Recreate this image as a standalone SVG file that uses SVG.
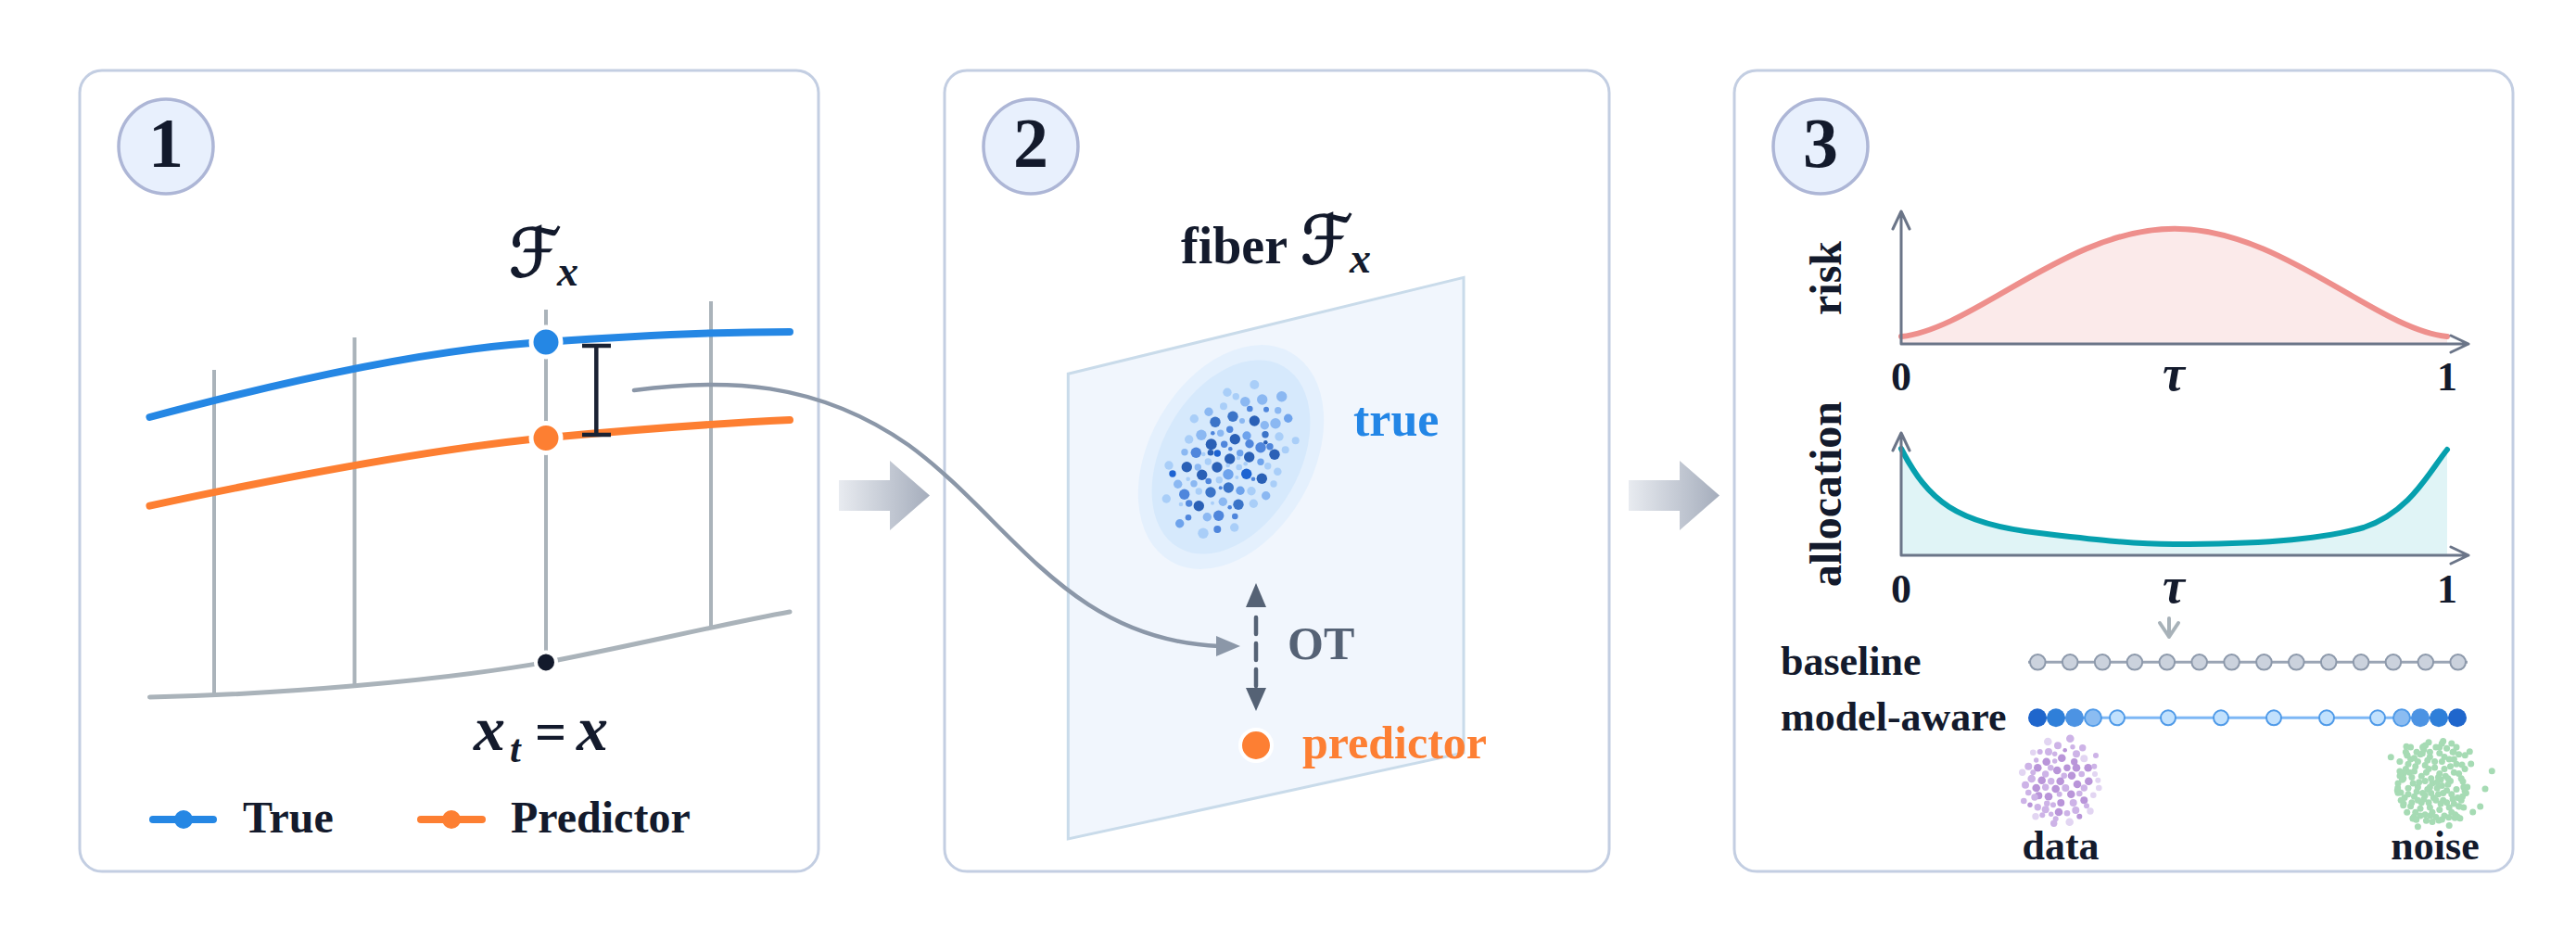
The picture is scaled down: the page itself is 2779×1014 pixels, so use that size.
<svg xmlns="http://www.w3.org/2000/svg" width="2779" height="1014" viewBox="0 0 2779 1014">
<defs>
<style>
.panel{fill:#ffffff;stroke:#c3cee2;stroke-width:3}
.badge{fill:#e8f0fd;stroke:#adb6d6;stroke-width:3.5}
.t{font-family:"Liberation Serif","Times New Roman","DejaVu Serif",serif;font-weight:bold;fill:#131a2c}
.num{font-size:76px;text-anchor:middle}
.m{font-family:"Liberation Serif","Times New Roman",serif;font-weight:bold;font-style:italic;fill:#131a2c}
.scr{font-family:"DejaVu Serif","DejaVu Sans",serif;font-style:italic;fill:#131a2c;stroke:#131a2c;stroke-width:1.6}
.vl{stroke:#aab3ba;stroke-width:4;fill:none}
.axis{stroke:#6b7588;stroke-width:3;fill:none;stroke-linecap:round;stroke-linejoin:round}
.b1{fill:#a9cef8}.b2{fill:#8bb8f2}.b3{fill:#6ea3ec}.b4{fill:#4f86dc}.b5{fill:#3b74c8}.b6{fill:#2a60b6}.b7{fill:#1d63d2}
.p1{fill:#b995d9}.p2{fill:#cdb3e7}.p3{fill:#e2d5f2}
.g circle{fill:#a6dbb4}
.bd{fill:#cbd2dd;stroke:#8d99ab;stroke-width:2}
.md{stroke:#4f9ae8;stroke-width:2}
</style>
<linearGradient id="ga" x1="0" y1="0" x2="1" y2="0">
<stop offset="0" stop-color="#e8ebf0"/>
<stop offset="1" stop-color="#a5adbc"/>
</linearGradient>
</defs>
<rect width="2779" height="1014" fill="#ffffff"/>

<g id="panel1">
<rect class="panel" x="86" y="76" width="797" height="864" rx="24"/>
<circle class="badge" cx="179" cy="158" r="51"/>
<text class="t num" x="179" y="180">1</text>
<text class="scr" x="549" y="298" font-size="72">ℱ</text>
<text class="m" x="601" y="308" font-size="46">x</text>
<path class="vl" d="M231,399 L231,748 M382.5,364 L382.5,739 M589,334 L589,714 M767,325 L767,677"/>
<path d="M161.5,752 C300,749 470,735 589,714.4 C680,697 780,673 852,660" fill="none" stroke="#aab3ba" stroke-width="5" stroke-linecap="round"/>
<path d="M161.5,450 C330,405 480,375 589,369 C700,361 780,358 852,358" fill="none" stroke="#2587e4" stroke-width="8" stroke-linecap="round"/>
<path d="M161.5,545.6 C300,516 470,484 589,472.2 C700,462 790,456 852,453" fill="none" stroke="#fd7f32" stroke-width="8" stroke-linecap="round"/>
<circle cx="589" cy="369" r="16" fill="#2587e4" stroke="#ffffff" stroke-width="5"/>
<circle cx="589" cy="472.5" r="16" fill="#fd7f32" stroke="#ffffff" stroke-width="5"/>
<circle cx="589" cy="714.4" r="11" fill="#131a2c" stroke="#ffffff" stroke-width="4"/>
<path d="M643.3,373 L643.3,469 M628,373 L659,373 M628,469 L659,469" stroke="#1a2233" stroke-width="4.5" fill="none"/>
<text class="m" x="511" y="809" font-size="68">x</text>
<text class="m" x="550" y="822" font-size="42">t</text>
<text class="t" x="577" y="809" font-size="60" font-weight="normal">=</text>
<text class="m" x="622" y="809" font-size="68">x</text>
<line x1="165" y1="884" x2="230" y2="884" stroke="#2587e4" stroke-width="8" stroke-linecap="round"/>
<circle cx="198" cy="884" r="10" fill="#2587e4"/>
<text class="t" x="262" y="898" font-size="48">True</text>
<line x1="454" y1="884" x2="520" y2="884" stroke="#fd7f32" stroke-width="8" stroke-linecap="round"/>
<circle cx="487" cy="884" r="10" fill="#fd7f32"/>
<text class="t" x="551" y="898" font-size="48">Predictor</text>
</g>

<g id="panel2">
<rect class="panel" x="1019" y="76" width="717" height="864" rx="24"/>
<circle class="badge" cx="1112" cy="158" r="51"/>
<text class="t num" x="1112" y="180">2</text>
<text class="t" x="1274" y="284" font-size="56">fiber</text>
<text class="scr" x="1403" y="284" font-size="72">ℱ</text>
<text class="m" x="1456" y="294" font-size="46">x</text>
<polygon points="1152.3,403.3 1579,299.3 1579,812 1152.3,905" fill="#f1f6fd" stroke="#c9dbea" stroke-width="3"/>
<g transform="translate(1328,493) rotate(-60)">
<ellipse rx="130" ry="88" fill="#e4f0fd"/>
<ellipse rx="113" ry="74" fill="#d6e9fc"/>
</g>
<g id="truecloud">
<circle class="b1" cx="1353.3" cy="415" r="5"/>
<circle class="b1" cx="1324" cy="423.3" r="4.7"/>
<circle class="b1" cx="1333.3" cy="427.7" r="3.7"/>
<circle class="b2" cx="1343.3" cy="433.3" r="5.3"/>
<circle class="b2" cx="1361.7" cy="431" r="5.7"/>
<circle class="b2" cx="1382.7" cy="427.7" r="5.7"/>
<circle class="b4" cx="1348.3" cy="441" r="3.3"/>
<circle class="b4" cx="1366" cy="441.7" r="3"/>
<circle class="b2" cx="1378.7" cy="442.7" r="3.7"/>
<circle class="b1" cx="1320" cy="438.3" r="4"/>
<circle class="b2" cx="1304" cy="444.3" r="4.7"/>
<circle class="b5" cx="1330" cy="449.3" r="5.7"/>
<circle class="b5" cx="1311" cy="455.3" r="5.7"/>
<circle class="b2" cx="1340" cy="454" r="3"/>
<circle class="b6" cx="1353.3" cy="454" r="5.7"/>
<circle class="b2" cx="1364.3" cy="458.7" r="4.7"/>
<circle class="b2" cx="1376" cy="456.7" r="5.7"/>
<circle class="b3" cx="1389.7" cy="451.3" r="4.7"/>
<circle class="b1" cx="1288.3" cy="451.7" r="4.7"/>
<circle class="b2" cx="1296" cy="469.3" r="5.7"/>
<circle class="b4" cx="1308.3" cy="467.3" r="2.3"/>
<circle class="b2" cx="1316.7" cy="467.3" r="3.7"/>
<circle class="b4" cx="1326.7" cy="463.3" r="3.7"/>
<circle class="b6" cx="1332.3" cy="473.7" r="5.7"/>
<circle class="b3" cx="1345" cy="470" r="4.7"/>
<circle class="b5" cx="1365" cy="468.7" r="3.7"/>
<circle class="b1" cx="1380" cy="471" r="4.7"/>
<circle class="b1" cx="1282.7" cy="474" r="4.7"/>
<circle class="b6" cx="1306.7" cy="479.3" r="6"/>
<circle class="b4" cx="1320.7" cy="479.3" r="3.7"/>
<circle class="b4" cx="1348" cy="478.7" r="4.7"/>
<circle class="b6" cx="1365.3" cy="477.3" r="2.3"/>
<circle class="b4" cx="1360" cy="482.7" r="5.7"/>
<circle class="b4" cx="1370" cy="481.7" r="3.7"/>
<circle class="b1" cx="1397.7" cy="475.3" r="4"/>
<circle class="b1" cx="1386.7" cy="485.3" r="4"/>
<circle class="b2" cx="1278" cy="487.7" r="3.7"/>
<circle class="b4" cx="1290.3" cy="488.3" r="5.7"/>
<circle class="b1" cx="1298.3" cy="490" r="2.3"/>
<circle class="b6" cx="1306" cy="488.3" r="3.3"/>
<circle class="b7" cx="1313.3" cy="489" r="3.7"/>
<circle class="b4" cx="1327.3" cy="484.3" r="2.3"/>
<circle class="b3" cx="1337.7" cy="488.7" r="3.7"/>
<circle class="b6" cx="1347.7" cy="493" r="5.7"/>
<circle class="b6" cx="1326.7" cy="495" r="5.7"/>
<circle class="b1" cx="1336" cy="494" r="2.3"/>
<circle class="b6" cx="1375" cy="490.3" r="5.7"/>
<circle class="b1" cx="1261" cy="502" r="4.7"/>
<circle class="b7" cx="1265" cy="511" r="3.7"/>
<circle class="b6" cx="1280.3" cy="503.7" r="5.7"/>
<circle class="b2" cx="1292.3" cy="504" r="3.7"/>
<circle class="b1" cx="1303.3" cy="498" r="3.7"/>
<circle class="b6" cx="1313" cy="504" r="5.7"/>
<circle class="b1" cx="1324.7" cy="502" r="2.3"/>
<circle class="b1" cx="1336.7" cy="504" r="3.3"/>
<circle class="b1" cx="1343.7" cy="500.3" r="2.3"/>
<circle class="b3" cx="1360" cy="498.3" r="3.7"/>
<circle class="b1" cx="1367.7" cy="502.7" r="3.7"/>
<circle class="b1" cx="1378.3" cy="508.7" r="4.3"/>
<circle class="b6" cx="1296.7" cy="512.3" r="5.7"/>
<circle class="b1" cx="1281.7" cy="516.7" r="2.3"/>
<circle class="b2" cx="1288" cy="521.7" r="3.7"/>
<circle class="b4" cx="1303.7" cy="519" r="3.3"/>
<circle class="b1" cx="1315.3" cy="517.7" r="3.7"/>
<circle class="b3" cx="1325" cy="511.7" r="5.7"/>
<circle class="b1" cx="1334.3" cy="515" r="2"/>
<circle class="b7" cx="1344.7" cy="511.3" r="5.7"/>
<circle class="b4" cx="1352" cy="516.7" r="2.3"/>
<circle class="b6" cx="1361.3" cy="516.3" r="5.7"/>
<circle class="b1" cx="1374" cy="522" r="3.7"/>
<circle class="b2" cx="1270.7" cy="522.3" r="4.7"/>
<circle class="b4" cx="1277.7" cy="533.3" r="5.7"/>
<circle class="b1" cx="1293.3" cy="530" r="3.7"/>
<circle class="b5" cx="1306" cy="531" r="5.7"/>
<circle class="b4" cx="1316.7" cy="526.3" r="2"/>
<circle class="b5" cx="1325.3" cy="526" r="5.7"/>
<circle class="b3" cx="1338" cy="529.3" r="4.7"/>
<circle class="b1" cx="1350" cy="529.7" r="4.7"/>
<circle class="b1" cx="1258.3" cy="538" r="4.7"/>
<circle class="b1" cx="1274" cy="544" r="2.3"/>
<circle class="b4" cx="1282.7" cy="543" r="3.7"/>
<circle class="b6" cx="1293.3" cy="545.7" r="5.7"/>
<circle class="b1" cx="1308" cy="542.7" r="2"/>
<circle class="b2" cx="1319.3" cy="541.3" r="4.7"/>
<circle class="b4" cx="1326.7" cy="547.3" r="2.3"/>
<circle class="b5" cx="1336" cy="544.3" r="5.7"/>
<circle class="b1" cx="1352.3" cy="543.3" r="4.7"/>
<circle class="b2" cx="1365.7" cy="534.7" r="4.7"/>
<circle class="b2" cx="1302.3" cy="557.7" r="4.7"/>
<circle class="b4" cx="1314.7" cy="556.3" r="5.7"/>
<circle class="b4" cx="1332.3" cy="557" r="3.3"/>
<circle class="b3" cx="1272.7" cy="564.7" r="4.7"/>
<circle class="b4" cx="1282" cy="558.3" r="3.3"/>
<circle class="b1" cx="1298" cy="575.3" r="5.7"/>
<circle class="b4" cx="1313.3" cy="571" r="4"/>
<circle class="b1" cx="1331.7" cy="569" r="4.7"/>
</g>
<text class="t" x="1460" y="470" font-size="52" style="fill:#2386e6">true</text>
<text class="t" x="1389" y="711" font-size="50" style="fill:#556275">OT</text>
<circle cx="1355" cy="804" r="17" fill="#fd7f33" stroke="#ffffff" stroke-width="4"/>
<text class="t" x="1405" y="818" font-size="50" style="fill:#fd7f33">predictor</text>
</g>

<g id="panel3">
<rect class="panel" x="1871" y="76" width="840" height="864" rx="24"/>
<circle class="badge" cx="1964" cy="158" r="51"/>
<text class="t num" x="1964" y="180">3</text>
<text class="t" font-size="48" text-anchor="middle" transform="translate(1986,300) rotate(-90)">risk</text>
<text class="t" font-size="48" text-anchor="middle" transform="translate(1986,533) rotate(-90)">allocation</text>
<path d="M2051,363 C2130,355 2230,246.7 2346,246.7 C2462,246.7 2562,355 2640,363 L2640,371 L2051,371 Z" fill="#fbeaea"/>
<path d="M2051,363 C2130,355 2230,246.7 2346,246.7 C2462,246.7 2562,355 2640,363" fill="none" stroke="#ee8f8c" stroke-width="6" stroke-linecap="round"/>
<path class="axis" d="M2051,228 L2051,371 L2663,371 M2042,247 L2051,228 L2060,247 M2644,362 L2663,371 L2644,380"/>
<text class="t" x="2051" y="421" font-size="44" text-anchor="middle">0</text>
<text class="m" x="2345" y="421" font-size="54" text-anchor="middle">τ</text>
<text class="t" x="2640" y="421" font-size="44" text-anchor="middle">1</text>
<path d="M2051,484 C2080,540 2110,565 2200,575 C2260,582 2300,587 2345,587 C2430,587 2500,583 2550,569 C2600,552 2620,510 2640,485 L2640,599 L2051,599 Z" fill="#e0f4f6"/>
<path d="M2051,484 C2080,540 2110,565 2200,575 C2260,582 2300,587 2345,587 C2430,587 2500,583 2550,569 C2600,552 2620,510 2640,485" fill="none" stroke="#06a0ae" stroke-width="6" stroke-linecap="round"/>
<path class="axis" d="M2051,467 L2051,599 L2663,599 M2042,486 L2051,467 L2060,486 M2644,590 L2663,599 L2644,608"/>
<text class="t" x="2051" y="650" font-size="44" text-anchor="middle">0</text>
<text class="m" x="2345" y="650" font-size="54" text-anchor="middle">τ</text>
<text class="t" x="2640" y="650" font-size="44" text-anchor="middle">1</text>
<path d="M2340,667 L2340,687 M2330,672 L2340,687 L2350,672" stroke="#a8b2b9" stroke-width="4" fill="none" stroke-linecap="round" stroke-linejoin="round"/>
<text class="t" x="1921" y="728" font-size="44">baseline</text>
<text class="t" x="1921" y="788" font-size="44">model-aware</text>
<line x1="2188" y1="714.3" x2="2662" y2="714.3" stroke="#9aa4b4" stroke-width="3"/>
<g id="baseline-dots">
<circle class="bd" cx="2198.3" cy="714.3" r="8.3"/>
<circle class="bd" cx="2233.2" cy="714.3" r="8.3"/>
<circle class="bd" cx="2268.1" cy="714.3" r="8.3"/>
<circle class="bd" cx="2302.9" cy="714.3" r="8.3"/>
<circle class="bd" cx="2337.8" cy="714.3" r="8.3"/>
<circle class="bd" cx="2372.7" cy="714.3" r="8.3"/>
<circle class="bd" cx="2407.6" cy="714.3" r="8.3"/>
<circle class="bd" cx="2442.4" cy="714.3" r="8.3"/>
<circle class="bd" cx="2477.3" cy="714.3" r="8.3"/>
<circle class="bd" cx="2512.2" cy="714.3" r="8.3"/>
<circle class="bd" cx="2547.1" cy="714.3" r="8.3"/>
<circle class="bd" cx="2581.9" cy="714.3" r="8.3"/>
<circle class="bd" cx="2616.8" cy="714.3" r="8.3"/>
<circle class="bd" cx="2651.7" cy="714.3" r="8.3"/>
</g>
<line x1="2198" y1="774.3" x2="2651" y2="774.3" stroke="#7db7f5" stroke-width="3"/>
<g id="model-dots">
<circle cx="2198" cy="774.3" r="10" fill="#1f66cc"/>
<circle cx="2218" cy="774.3" r="10" fill="#2f7fd9"/>
<circle cx="2238" cy="774.3" r="10" fill="#4c93e3"/>
<circle class="md" cx="2258" cy="774.3" r="9" fill="#8bbcf1"/>
<circle class="md" cx="2284" cy="774.3" r="8" fill="#c2e1fd"/>
<circle class="md" cx="2339" cy="774.3" r="8" fill="#c2e1fd"/>
<circle class="md" cx="2396" cy="774.3" r="8" fill="#c2e1fd"/>
<circle class="md" cx="2453" cy="774.3" r="8" fill="#c2e1fd"/>
<circle class="md" cx="2510" cy="774.3" r="8" fill="#c2e1fd"/>
<circle class="md" cx="2565" cy="774.3" r="8" fill="#c2e1fd"/>
<circle class="md" cx="2591" cy="774.3" r="9" fill="#8bbcf1"/>
<circle cx="2611" cy="774.3" r="10" fill="#4c93e3"/>
<circle cx="2631" cy="774.3" r="10" fill="#2f7fd9"/>
<circle cx="2651" cy="774.3" r="10" fill="#1f66cc"/>
</g>
<g id="data-cloud">
<circle class="p2" cx="2233.3" cy="796.7" r="4.3"/>
<circle class="p3" cx="2209.3" cy="800" r="4.3"/>
<circle class="p2" cx="2220" cy="804.3" r="4"/>
<circle class="p2" cx="2236" cy="805.7" r="2.7"/>
<circle class="p2" cx="2246.7" cy="806.7" r="3.7"/>
<circle class="p1" cx="2227.7" cy="809.3" r="2.3"/>
<circle class="p3" cx="2193.3" cy="811.7" r="3.3"/>
<circle class="p2" cx="2200.7" cy="811" r="3"/>
<circle class="p2" cx="2210" cy="811" r="4"/>
<circle class="p2" cx="2216.7" cy="813.3" r="2.7"/>
<circle class="p2" cx="2240" cy="813.3" r="4"/>
<circle class="p1" cx="2224.3" cy="817.7" r="4.3"/>
<circle class="p2" cx="2261" cy="815" r="3"/>
<circle class="p3" cx="2248.3" cy="818.3" r="4"/>
<circle class="p2" cx="2196.7" cy="820" r="2.7"/>
<circle class="p1" cx="2207.7" cy="821.7" r="4.3"/>
<circle class="p1" cx="2237.7" cy="821.7" r="3.7"/>
<circle class="p2" cx="2216.7" cy="821" r="2.7"/>
<circle class="p2" cx="2188.3" cy="826.7" r="4"/>
<circle class="p1" cx="2198.3" cy="828.3" r="4.3"/>
<circle class="p2" cx="2212.3" cy="828.3" r="3.3"/>
<circle class="p1" cx="2219.3" cy="831" r="4.3"/>
<circle class="p1" cx="2230" cy="828.3" r="3.7"/>
<circle class="p1" cx="2240" cy="828.3" r="4.3"/>
<circle class="p1" cx="2252.7" cy="828.3" r="4.3"/>
<circle class="p2" cx="2259.3" cy="826.7" r="3"/>
<circle class="p3" cx="2181.7" cy="833.3" r="3.7"/>
<circle class="p2" cx="2193.3" cy="833.3" r="3"/>
<circle class="p2" cx="2206.7" cy="835" r="3.7"/>
<circle class="p2" cx="2226.7" cy="836.7" r="3.3"/>
<circle class="p1" cx="2235" cy="836.7" r="4.3"/>
<circle class="p2" cx="2245.7" cy="835" r="3.3"/>
<circle class="p3" cx="2260" cy="835" r="3"/>
<circle class="p2" cx="2191.7" cy="840" r="4.3"/>
<circle class="p1" cx="2202.7" cy="841.7" r="4.3"/>
<circle class="p2" cx="2212.7" cy="842.7" r="3.7"/>
<circle class="p1" cx="2222.7" cy="842.7" r="4.3"/>
<circle class="p1" cx="2241" cy="846" r="4.3"/>
<circle class="p1" cx="2253.3" cy="842.7" r="4.3"/>
<circle class="p3" cx="2263.3" cy="841.7" r="3"/>
<circle class="p2" cx="2185" cy="846.7" r="4"/>
<circle class="p1" cx="2196.7" cy="850" r="4.3"/>
<circle class="p2" cx="2206.7" cy="849.3" r="3.7"/>
<circle class="p1" cx="2217.7" cy="851" r="4.3"/>
<circle class="p2" cx="2228.3" cy="850" r="4"/>
<circle class="p2" cx="2248.3" cy="850" r="3.7"/>
<circle class="p3" cx="2264.3" cy="850" r="3.3"/>
<circle class="p2" cx="2188.3" cy="855" r="3.3"/>
<circle class="p1" cx="2199.3" cy="858.3" r="4"/>
<circle class="p1" cx="2210" cy="859.3" r="4.3"/>
<circle class="p2" cx="2221.7" cy="856.7" r="3"/>
<circle class="p1" cx="2234.3" cy="856.7" r="4.3"/>
<circle class="p2" cx="2243.3" cy="856" r="3.3"/>
<circle class="p3" cx="2258.3" cy="857.7" r="3.3"/>
<circle class="p2" cx="2183.3" cy="864" r="3.3"/>
<circle class="p2" cx="2195" cy="860" r="3.7"/>
<circle class="p2" cx="2208.3" cy="866.7" r="3.3"/>
<circle class="p1" cx="2223.3" cy="866" r="4"/>
<circle class="p2" cx="2236.7" cy="866" r="4"/>
<circle class="p1" cx="2248.3" cy="863.3" r="4"/>
<circle class="p1" cx="2190" cy="868.3" r="2.7"/>
<circle class="p2" cx="2198.3" cy="870.7" r="3.7"/>
<circle class="p2" cx="2215" cy="868.3" r="3"/>
<circle class="p2" cx="2206.7" cy="873.3" r="4"/>
<circle class="p1" cx="2221" cy="876" r="4.3"/>
<circle class="p2" cx="2230" cy="877.3" r="3.3"/>
<circle class="p2" cx="2239.3" cy="874" r="4"/>
<circle class="p2" cx="2251" cy="869.3" r="3"/>
<circle class="p3" cx="2255" cy="875" r="3.7"/>
<circle class="p2" cx="2203.3" cy="879.3" r="3"/>
<circle class="p2" cx="2212.7" cy="878.3" r="2.7"/>
<circle class="p3" cx="2196" cy="880.7" r="3.7"/>
<circle class="p2" cx="2217.7" cy="883.3" r="3"/>
<circle class="p3" cx="2232.7" cy="886.7" r="4.3"/>
<circle class="p1" cx="2243.3" cy="880.7" r="3"/>
<circle class="p2" cx="2215.7" cy="888.3" r="3.7"/>
</g>
<g id="noise-cloud" class="g">
<g transform="translate(2624,845) scale(1.3)">
<circle cx="-18" cy="-20" r="2.7"/><circle cx="-10" cy="-24" r="2.7"/><circle cx="-2" cy="-22" r="2.7"/><circle cx="6" cy="-25" r="2.7"/><circle cx="14" cy="-20" r="2.7"/><circle cx="20" cy="-16" r="2.7"/>
<circle cx="-22" cy="-12" r="2.7"/><circle cx="-14" cy="-14" r="2.7"/><circle cx="-6" cy="-15" r="2.7"/><circle cx="2" cy="-13" r="2.7"/><circle cx="10" cy="-12" r="2.7"/><circle cx="18" cy="-9" r="2.7"/>
<circle cx="24" cy="-4" r="2.7"/><circle cx="-25" cy="-3" r="2.7"/><circle cx="-17" cy="-5" r="2.7"/><circle cx="-9" cy="-6" r="2.7"/><circle cx="-1" cy="-4" r="2.7"/><circle cx="7" cy="-3" r="2.7"/>
<circle cx="15" cy="-2" r="2.7"/><circle cx="-20" cy="4" r="2.7"/><circle cx="-12" cy="3" r="2.7"/><circle cx="-4" cy="5" r="2.7"/><circle cx="4" cy="4" r="2.7"/><circle cx="12" cy="6" r="2.7"/>
<circle cx="20" cy="5" r="2.7"/><circle cx="-23" cy="12" r="2.7"/><circle cx="-15" cy="11" r="2.7"/><circle cx="-7" cy="13" r="2.7"/><circle cx="1" cy="12" r="2.7"/><circle cx="9" cy="14" r="2.7"/>
<circle cx="17" cy="13" r="2.7"/><circle cx="25" cy="11" r="2.7"/><circle cx="-18" cy="19" r="2.7"/><circle cx="-10" cy="21" r="2.7"/><circle cx="-2" cy="20" r="2.7"/><circle cx="6" cy="22" r="2.7"/>
<circle cx="14" cy="20" r="2.7"/><circle cx="22" cy="19" r="2.7"/><circle cx="-13" cy="-26" r="2.7"/><circle cx="3" cy="-30" r="2.7"/><circle cx="12" cy="-29" r="2.7"/><circle cx="-5" cy="-9" r="2.7"/>
<circle cx="5" cy="9" r="2.7"/><circle cx="-8" cy="8" r="2.7"/><circle cx="11" cy="-6" r="2.7"/><circle cx="-15" cy="-21" r="2.7"/><circle cx="0" cy="0" r="2.7"/><circle cx="8" cy="-18" r="2.7"/>
<circle cx="-6" cy="26" r="2.7"/><circle cx="10" cy="27" r="2.7"/><circle cx="-21" cy="24" r="2.7"/><circle cx="19" cy="26" r="2.7"/><circle cx="27" cy="-12" r="2.7"/><circle cx="-27" cy="-18" r="2.7"/>
<circle cx="29" cy="3" r="2.7"/><circle cx="-29" cy="6" r="2.7"/><circle cx="0" cy="32" r="2.7"/><circle cx="-3" cy="-34" r="2.7"/><circle cx="16" cy="-33" r="2.7"/><circle cx="-16" cy="29" r="2.7"/>
<circle cx="23" cy="29" r="2.7"/><circle cx="-12" cy="36" r="2.7"/><circle cx="14" cy="35" r="2.7"/><circle cx="4" cy="-1" r="2.7"/><circle cx="-11" cy="-1" r="2.7"/><circle cx="13" cy="1" r="2.7"/>
<circle cx="-3" cy="16" r="2.7"/><circle cx="7" cy="17" r="2.7"/><circle cx="-17" cy="16" r="2.7"/><circle cx="17" cy="-26" r="2.7"/><circle cx="-22" cy="-26" r="2.7"/><circle cx="26" cy="20" r="2.7"/>
<circle cx="-7" cy="-28" r="2.7"/><circle cx="9" cy="-35" r="2.7"/><circle cx="-19" cy="-9" r="2.7"/><circle cx="22" cy="-24" r="2.7"/><circle cx="3" cy="28" r="2.7"/><circle cx="-4" cy="-19" r="2.7"/>
<circle cx="15" cy="-14" r="2.7"/><circle cx="-13" cy="7" r="2.7"/><circle cx="8" cy="2" r="2.7"/><circle cx="-1" cy="8" r="2.7"/><circle cx="21" cy="12" r="2.7"/><circle cx="-9" cy="16" r="2.7"/>
<circle cx="-24" cy="-8" r="2.7"/><circle cx="-6" cy="-2" r="2.7"/><circle cx="6" cy="-8" r="2.7"/><circle cx="18" cy="-20" r="2.7"/><circle cx="-12" cy="-18" r="2.7"/><circle cx="-20" cy="-16" r="2.7"/>
<circle cx="2" cy="-18" r="2.7"/><circle cx="10" cy="-22" r="2.7"/><circle cx="-2" cy="3" r="2.7"/><circle cx="9" cy="8" r="2.7"/><circle cx="16" cy="9" r="2.7"/><circle cx="-16" cy="0" r="2.7"/>
<circle cx="-6" cy="10" r="2.7"/><circle cx="3" cy="14" r="2.7"/><circle cx="12" cy="16" r="2.7"/><circle cx="-12" cy="14" r="2.7"/><circle cx="-20" cy="9" r="2.7"/><circle cx="26" cy="3" r="2.7"/>
<circle cx="-26" cy="14" r="2.7"/><circle cx="22" cy="-8" r="2.7"/><circle cx="-10" cy="27" r="2.7"/><circle cx="0" cy="24" r="2.7"/><circle cx="8" cy="30" r="2.7"/><circle cx="16" cy="24" r="2.7"/>
<circle cx="-14" cy="24" r="2.7"/><circle cx="-24" cy="-4" r="2.7"/><circle cx="-8" cy="-30" r="2.7"/><circle cx="20" cy="-30" r="2.7"/><circle cx="-18" cy="-30" r="2.7"/><circle cx="28" cy="8" r="2.7"/>
<circle cx="-2" cy="-26" r="2.7"/><circle cx="6" cy="-30" r="2.7"/><circle cx="13" cy="-4" r="2.7"/><circle cx="-15" cy="-10" r="2.7"/><circle cx="5" cy="-5" r="2.7"/><circle cx="-3" cy="-12" r="2.7"/>
<circle cx="24" cy="14" r="2.7"/><circle cx="-27" cy="-10" r="2.7"/><circle cx="18" cy="17" r="2.7"/><circle cx="-5" cy="31" r="2.7"/>
</g>
<g transform="translate(2623,845)">
<circle cx="-34" cy="-8" r="3.5"/><circle cx="-33" cy="10" r="3.5"/><circle cx="33" cy="-20" r="3.5"/><circle cx="36" cy="8" r="3.5"/><circle cx="-30" cy="22" r="3.5"/><circle cx="30" cy="25" r="3.5"/>
<circle cx="-26" cy="-30" r="3.5"/><circle cx="24" cy="-34" r="3.5"/><circle cx="-8" cy="-40" r="3.5"/><circle cx="8" cy="40" r="3.5"/><circle cx="-20" cy="38" r="3.5"/><circle cx="34" cy="-2" r="3.5"/>
<circle cx="-36" cy="0" r="3.5"/><circle cx="28" cy="36" r="3.5"/>
<circle cx="-43.7" cy="-28.3" r="3.5"/><circle cx="65.3" cy="-13.3" r="3.5"/><circle cx="58" cy="6" r="3.5"/><circle cx="52.7" cy="25" r="3.5"/><circle cx="-27" cy="-39.7" r="3.5"/><circle cx="-6.3" cy="-41" r="3.5"/>
<circle cx="11.3" cy="-43" r="3.5"/><circle cx="41.3" cy="-34.3" r="3.5"/><circle cx="36.3" cy="-30.3" r="3.5"/><circle cx="42.7" cy="-21" r="3.5"/><circle cx="-18.7" cy="36" r="3.5"/><circle cx="-16.3" cy="39.3" r="3.5"/>
<circle cx="-1.3" cy="35" r="3.5"/><circle cx="18.7" cy="36.7" r="3.5"/><circle cx="25.3" cy="37.3" r="3.5"/><circle cx="44.7" cy="31" r="3.5"/><circle cx="-36" cy="10.3" r="3.5"/><circle cx="-30.3" cy="23.7" r="3.5"/>
<circle cx="-36.3" cy="5" r="3.5"/><circle cx="-31.3" cy="-4" r="3.5"/><circle cx="-26.3" cy="-30.7" r="3.5"/><circle cx="-9.7" cy="-32.3" r="3.5"/>
</g>
</g>
<text class="t" x="2223" y="927" font-size="44" text-anchor="middle">data</text>
<text class="t" x="2627" y="927" font-size="44" text-anchor="middle">noise</text>
</g>

<g id="connectors">
<polygon points="905,518 960,518 960,497 1003,534.5 960,572 960,551 905,551" fill="url(#ga)"/>
<polygon points="1757,518 1812,518 1812,497 1855,534.5 1812,572 1812,551 1757,551" fill="url(#ga)"/>
<path d="M684,421 C780,408 880,410 980,480 C1090,560 1150,690 1315,697" fill="none" stroke="#8b97a8" stroke-width="4.5" stroke-linecap="round"/>
<polygon points="1338,697 1312,686 1312,708" fill="#8b97a8"/>
<line x1="1355" y1="666" x2="1355" y2="742" stroke="#556275" stroke-width="4.5" stroke-dasharray="18 10" stroke-linecap="round"/>
<polygon points="1355,629 1344,655 1366,655" fill="#556275"/>
<polygon points="1355,767 1344,742 1366,742" fill="#556275"/>
</g>
</svg>
